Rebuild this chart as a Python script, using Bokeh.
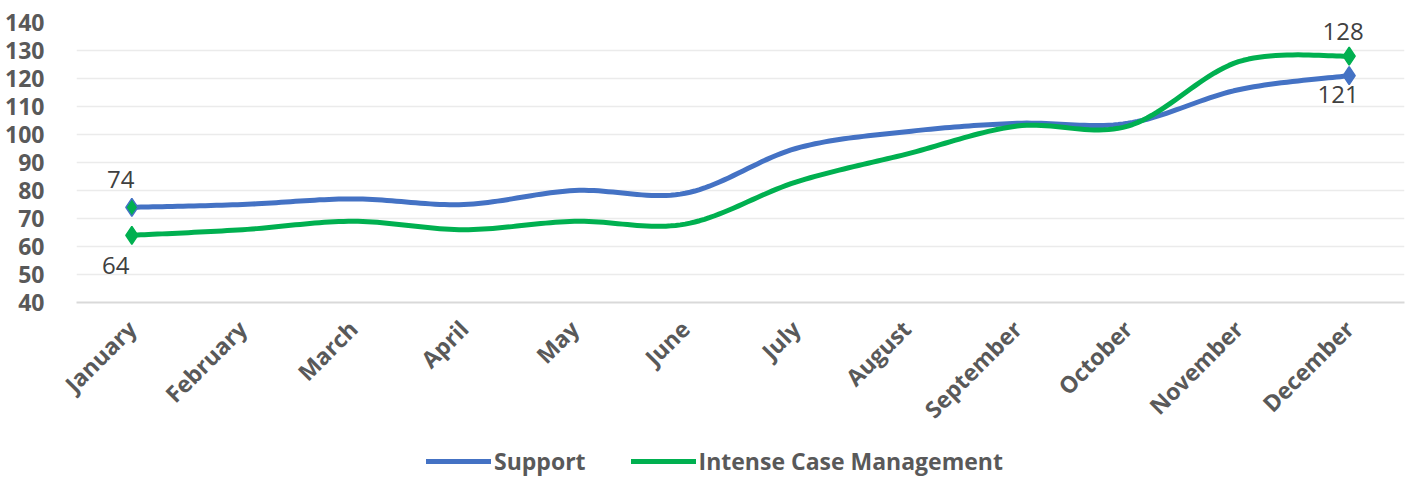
import numpy as np
from bokeh.plotting import figure
from bokeh.layouts import column
from bokeh.models import ColumnDataSource, Range1d, FixedTicker, Legend, LegendItem
from bokeh.core.properties import value
from bokeh.embed import file_html
from bokeh.resources import INLINE

months = ["January", "February", "March", "April", "May", "June", "July",
          "August", "September", "October", "November", "December"]
support = [74, 75, 77, 75, 80, 79, 95, 101, 104, 104, 116, 121]
icm = [64, 66, 69, 66, 69, 68, 83, 93, 103, 103, 126, 128]
y_ticks = [40, 50, 60, 70, 80, 90, 100, 110, 120, 130, 140]
series_names = ["Support", "Intense Case Management"]

BLUE = "#4472C4"
GREEN = "#00B050"
FONT = "Open Sans"


def smooth(xs, ys, n=24):
    """Catmull-Rom style bezier smoothing (as spreadsheet 'smoothed line')."""
    xs = np.asarray(xs, float)
    ys = np.asarray(ys, float)
    px = np.concatenate([[xs[0]], xs, [xs[-1]]])
    py = np.concatenate([[ys[0]], ys, [ys[-1]]])
    outx, outy = [], []
    t = np.linspace(0, 1, n)
    for i in range(1, len(px) - 2):
        p0 = np.array([px[i], py[i]])
        p3 = np.array([px[i + 1], py[i + 1]])
        c1 = p0 + (p3 - np.array([px[i - 1], py[i - 1]])) / 6.0
        c2 = p3 - (np.array([px[i + 2], py[i + 2]]) - p0) / 6.0
        for tt in (t if i == 1 else t[1:]):
            b = ((1 - tt) ** 3) * p0 + 3 * ((1 - tt) ** 2) * tt * c1 + 3 * (1 - tt) * tt ** 2 * c2 + tt ** 3 * p3
            outx.append(float(b[0]))
            outy.append(float(b[1]))
    return outx, outy


xi = list(range(len(months)))

p = figure(width=1406, height=440, output_backend="svg", toolbar_location=None,
           x_range=Range1d(-0.5, 11.5), y_range=Range1d(40, 140),
           min_border_left=76, min_border_right=2, min_border_top=22, min_border_bottom=138)
p.title.visible = False
p.outline_line_color = None
p.background_fill_color = "white"

# Axes
p.yaxis.ticker = FixedTicker(ticks=y_ticks)
p.yaxis.axis_line_color = None
p.yaxis.major_tick_line_color = None
p.yaxis.minor_tick_line_color = None
p.yaxis.major_label_text_font = FONT
p.yaxis.major_label_text_font_style = "bold"
p.yaxis.major_label_text_font_size = "23px"
p.yaxis.major_label_text_color = "#595959"
p.yaxis.major_label_standoff = 26

p.xaxis.ticker = FixedTicker(ticks=xi)
p.xaxis.major_label_overrides = {i: m for i, m in enumerate(months)}
p.xaxis.major_label_orientation = 0.7854
p.xaxis.axis_line_color = "#D9D9D9"
p.xaxis.axis_line_width = 2
p.xaxis.major_tick_line_color = None
p.xaxis.minor_tick_line_color = None
p.xaxis.major_label_text_font = FONT
p.xaxis.major_label_text_font_style = "bold"
p.xaxis.major_label_text_font_size = "23px"
p.xaxis.major_label_text_color = "#595959"
p.xaxis.major_label_standoff = 16

p.xgrid.grid_line_color = None
p.ygrid.ticker = FixedTicker(ticks=y_ticks)
p.ygrid.grid_line_color = "#EBEBEB"
p.ygrid.grid_line_width = 1.5

# Lines
sx, sy = smooth(xi, support)
gx, gy = smooth(xi, icm)
p.line(sx, sy, line_color=BLUE, line_width=5, line_cap="round", line_join="round")
p.line(gx, gy, line_color=GREEN, line_width=5, line_cap="round", line_join="round")

# End markers
ends = [0, len(months) - 1]
p.scatter([xi[i] for i in ends], [support[i] for i in ends], marker="diamond", size=18,
          fill_color=[GREEN, BLUE], line_color=BLUE, line_width=1.5)
p.scatter([xi[i] for i in ends], [icm[i] for i in ends], marker="diamond", size=18,
          fill_color=GREEN, line_color=GREEN, line_width=1.5)

# Data labels
lab = ColumnDataSource(dict(
    x=[xi[0], xi[0], xi[-1], xi[-1]],
    y=[support[0], icm[0], icm[-1], support[-1]],
    t=[str(support[0]), str(icm[0]), str(icm[-1]), str(support[-1])],
    dx=[-11, -16, -6, -11],
    dy=[-28, 30, -25, 19],
))
p.text(x="x", y="y", text="t", x_offset="dx", y_offset="dy", source=lab,
       text_align="center", text_baseline="middle", text_font=value(FONT),
       text_font_size="24px", text_color="#404040")

# Legend strip (separate figure so the legend sits below the axis labels)
lg = figure(width=1406, height=37, output_backend="svg", toolbar_location=None,
            x_axis_type=None, y_axis_type=None,
            x_range=Range1d(10, 11), y_range=Range1d(10, 11),
            min_border_left=0, min_border_right=0, min_border_top=0, min_border_bottom=0)
lg.title.visible = False
lg.outline_line_color = None
lg.xgrid.grid_line_color = None
lg.ygrid.grid_line_color = None
# proxy renderers lie outside the strip's visible range; only their legend swatches show
r1 = lg.line([0, 0], [0, 0], line_color=BLUE, line_width=5, line_cap="round")
r2 = lg.line([0, 0], [0, 0], line_color=GREEN, line_width=5, line_cap="round")
legend = Legend(items=[LegendItem(label=series_names[0], renderers=[r1]),
                       LegendItem(label=series_names[1], renderers=[r2])],
                orientation="horizontal", location=(350, 0),
                glyph_width=65, glyph_height=20, label_standoff=3, spacing=45,
                padding=0, margin=0, border_line_color=None, background_fill_alpha=0,
                label_text_font=FONT, label_text_font_style="bold",
                label_text_font_size="23px", label_text_color="#595959")
lg.add_layout(legend, "center")

layout = column(p, lg, spacing=0)
open("out.html", "w").write(file_html(layout, INLINE))
